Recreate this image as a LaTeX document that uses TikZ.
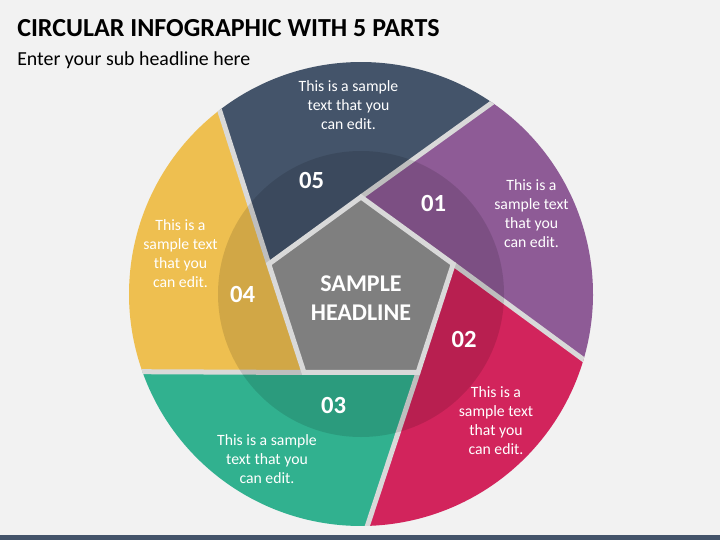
\documentclass[tikz,border=0pt]{standalone}
\usepackage{fontspec}
\setmainfont{Carlito}
\usetikzlibrary{calc}
\definecolor{bgc}{HTML}{F2F2F2}
\definecolor{navyc}{HTML}{44546A}
\definecolor{purplec}{HTML}{8E5B96}
\definecolor{redc}{HTML}{D2245C}
\definecolor{greenc}{HTML}{31B18F}
\definecolor{yellowc}{HTML}{EEBF50}
\definecolor{pentc}{HTML}{7F7F7F}
\definecolor{gapc}{HTML}{D9D9D9}
\begin{document}
\begin{tikzpicture}[x=0.75pt,y=0.75pt,
  gapline/.style={draw=gapc, line width=3.75pt},
  body/.style={text=white, align=center, font=\fontsize{11.8}{14.25}\selectfont, inner sep=0pt},
  num/.style={text=white, font=\bfseries\fontsize{18.5}{22}\selectfont, inner sep=0pt},
  head/.style={text=white, align=center, font=\bfseries\fontsize{18}{21.75}\selectfont, inner sep=0pt},
]
\fill[bgc] (0,0) rectangle (720,540);
\fill[navyc] (0,0) rectangle (720,5);
\node[anchor=base west, inner sep=0pt, font=\bfseries\fontsize{19.5}{23}\selectfont] (title) at (17,503.3) {CIRCULAR INFOGRAPHIC WITH 5 PARTS};
\node[anchor=base west, inner sep=0pt, font=\fontsize{14.9}{17}\selectfont] (sub) at (17,474.3) {Enter your sub headline here};
\begin{scope}[shift={(361,246)}]
  \coordinate (C) at (0,0);
  \coordinate (V1) at (90:97);
  \coordinate (V2) at (18:97);
  \coordinate (V3) at (-54:97);
  \coordinate (V4) at (-126:97);
  \coordinate (V5) at (162:97);
  \coordinate (P1) at (55.57:232);
  \coordinate (P2) at (-16.43:232);
  \coordinate (P3) at (-88.43:232);
  \coordinate (P4) at (-160.43:232);
  \coordinate (P5) at (127.57:232);
  \fill[purplec] (V1) -- (V2) -- (P2) arc[start angle=-16.43, end angle=55.57, radius=174pt] -- cycle;
  \fill[redc] (V2) -- (V3) -- (P3) arc[start angle=-88.43, end angle=-16.43, radius=174pt] -- cycle;
  \fill[greenc] (V3) -- (V4) -- (P4) arc[start angle=-160.43, end angle=-88.43, radius=174pt] -- cycle;
  \fill[yellowc] (V4) -- (V5) -- (P5) arc[start angle=127.57, end angle=199.57, radius=174pt] -- cycle;
  \fill[navyc] (V5) -- (V1) -- (P1) arc[start angle=55.57, end angle=127.57, radius=174pt] -- cycle;
  \begin{scope}
    \clip (C) circle[radius=174pt];
    \draw[gapline] (V1) -- ($(V1)!1.2!(P1)$);
    \draw[gapline] (V2) -- ($(V2)!1.2!(P2)$);
    \draw[gapline] (V3) -- ($(V3)!1.2!(P3)$);
    \draw[gapline] (V4) -- ($(V4)!1.2!(P4)$);
    \draw[gapline] (V5) -- ($(V5)!1.2!(P5)$);
  \end{scope}
  \fill[black, opacity=0.12] (C) circle[radius=107.25pt];
  \draw[fill=pentc, draw=gapc, line width=3.75pt, line join=miter] (V1) -- (V2) -- (V3) -- (V4) -- (V5) -- cycle;
\end{scope}
\node[head] (headline) at (361,242) {SAMPLE\\HEADLINE};
\node[num] (n05) at (311.5,359.5) {05};
\node[num] (n01) at (433.5,337) {01};
\node[num] (n02) at (464,201) {02};
\node[num] (n03) at (333.5,135) {03};
\node[num] (n04) at (242.5,245.5) {04};
\node[body] (t05) at (348.5,435) {This is a sample\\text that you\\can edit.};
\node[body] (t01) at (531.5,326.5) {This is a\\sample text\\that you\\can edit.};
\node[body] (t02) at (496,119.5) {This is a\\sample text\\that you\\can edit.};
\node[body] (t03) at (267,81) {This is a sample\\text that you\\can edit.};
\node[body] (t04) at (180.5,286.5) {This is a\\sample text\\that you\\can edit.};
\end{tikzpicture}
\end{document}
